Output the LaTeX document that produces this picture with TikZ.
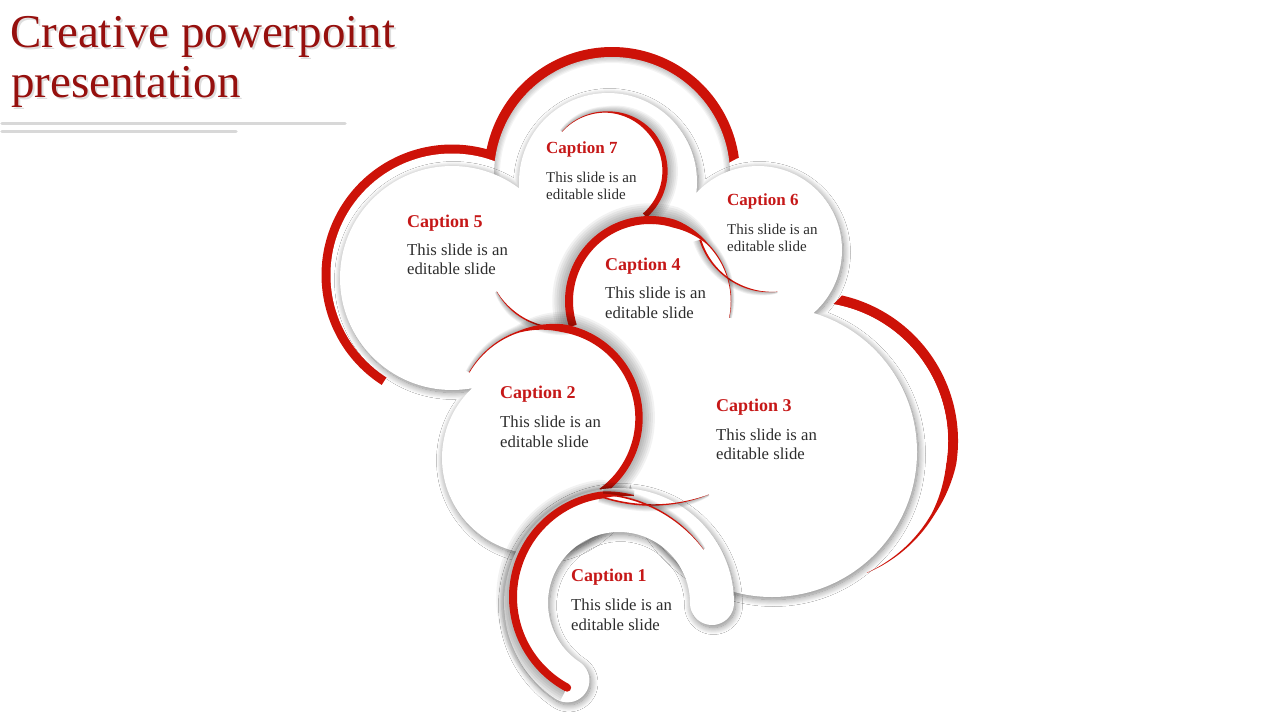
\documentclass[tikz,border=0pt]{standalone}
\usepackage{fontspec}
\setmainfont{Liberation Serif}
\usetikzlibrary{shadows.blur}
\definecolor{arcred}{RGB}{205,18,8}
\definecolor{capred}{RGB}{198,24,24}
\definecolor{titlered}{RGB}{150,16,14}
\definecolor{linegray}{RGB}{216,216,216}
\definecolor{bodygray}{RGB}{45,45,45}
\def\setprof#1/#2/#3/#4/#5/#6\relax{\def\wA{#1}\def\tB{#2}\def\wB{#3}\def\tC{#4}\def\wC{#5}\def\wD{#6}}
\newcommand\arcset[6]{\def\cx{#1}\def\cy{#2}\def\rr{#3}\def\aA{#4}\def\aB{#5}\setprof#6\relax}
\newcommand\arcfill{%
 \fill[arcred] plot[domain=0:1,samples=90,variable=\pp] ({\cx+(\rr+wp(\pp)/2)*cos(\aA+(\aB-\aA)*\pp)},{\cy+(\rr+wp(\pp)/2)*sin(\aA+(\aB-\aA)*\pp)}) -- plot[domain=0:1,samples=90,variable=\pp] ({\cx+(\rr-wp(1-\pp)/2)*cos(\aA+(\aB-\aA)*(1-\pp))},{\cy+(\rr-wp(1-\pp)/2)*sin(\aA+(\aB-\aA)*(1-\pp))}) -- cycle;}
\newcommand\arcshade{%
 \foreach \kk in {1,...,6}{%
 \fill[black,opacity=0.05] plot[domain=0:1,samples=70,variable=\pp] ({\cx+(\rr+wp(\pp)/2+\kk*0.75*sqrt(wp(\pp)))*cos(\aA+(\aB-\aA)*\pp)},{\cy+(\rr+wp(\pp)/2+\kk*0.75*sqrt(wp(\pp)))*sin(\aA+(\aB-\aA)*\pp)}) -- plot[domain=0:1,samples=70,variable=\pp] ({\cx+\rr*cos(\aA+(\aB-\aA)*(1-\pp))},{\cy+\rr*sin(\aA+(\aB-\aA)*(1-\pp))}) -- cycle;}}
\newcommand\redarc[6]{\arcset{#1}{#2}{#3}{#4}{#5}{#6}\arcshade\arcfill}
\newcommand\redarcplain[6]{\arcset{#1}{#2}{#3}{#4}{#5}{#6}\arcfill}
\newcommand\redsector[5]{\fill[arcred] (#1,#2) -- plot[domain=#4:#5,samples=90,variable=\pp] ({#1+#3*cos(\pp)},{#2+#3*sin(\pp)}) -- cycle;}
\begin{document}
\begin{tikzpicture}[x=1pt,y=-1pt,
  declare function={wp(\q)=(\q<\tB)?(\wA+(\wB-\wA)*\q/\tB):((\q<\tC)?(\wB+(\wC-\wB)*(\q-\tB)/(\tC-\tB)):(\wC+(\wD-\wC)*(\q-\tC)/(1-\tC)));},
  glow/.style={blur shadow={shadow xshift=1.5pt,shadow yshift=-2.5pt,shadow blur radius=7pt,shadow opacity=50,shadow blur steps=14}},
  captxt/.style={anchor=base west,inner sep=0pt,text=capred,font=\bfseries\fontsize{18}{18}\selectfont},
  captsm/.style={anchor=base west,inner sep=0pt,text=capred,font=\bfseries\fontsize{17}{17}\selectfont},
  bodytxt/.style={anchor=base west,inner sep=0pt,text=bodygray,font=\fontsize{16.7}{16.7}\selectfont},
  bodysm/.style={anchor=base west,inner sep=0pt,text=bodygray,font=\fontsize{15}{15}\selectfont},
  titletxt/.style={anchor=base west,inner sep=0pt,font=\fontsize{47}{47}\selectfont}]
\useasboundingbox (0,0) rectangle (1280,720);
\fill[white] (0,0) rectangle (1280,720);

% title
\node[titletxt,text=black,opacity=0.13] at (12,49) {Creative powerpoint};
\node[titletxt,text=black,opacity=0.13] at (13,99) {presentation};
\node[titletxt,text=titlered] (title1) at (10,47) {Creative powerpoint};
\node[titletxt,text=titlered] (title2) at (11,97) {presentation};
\coordinate (l1a) at (2,123.3); \coordinate (l1b) at (345,123.3);
\coordinate (l2a) at (2,131.7); \coordinate (l2b) at (236,131.7);
\draw[linegray,line width=3.5pt,line cap=round] (l1a) -- (l1b);
\draw[linegray,line width=3.5pt,line cap=round] (l2a) -- (l2b);

% outer red border
\redsector{452}{275}{130.5}{122.6}{300}
\redsector{612}{175}{128}{180}{360}
\redsector{775}{238}{96}{230}{55}
\redarcplain{809}{441}{144}{276}{426.3}{10.5/0.62/10/0.76/3/0.2}
\fill[white] (452,275) circle[radius=121.5];
\fill[white] (612,175) circle[radius=118];
\fill[white] (775,238) circle[radius=88];
\fill[white] (809,441) circle[radius=139];
\begin{scope}
\clip (612,175) circle[radius=118];
\foreach \kk in {1,...,5} \draw[black,opacity=0.045,line width=\kk*2.4pt] (612,175) circle[radius=118];
\end{scope}

% inner cloud
\fill[white,glow] (452,278) circle[radius=112] (608,182) circle[radius=89]
  (758,250) circle[radius=84] (772,452) circle[radius=145]
  (538,458) circle[radius=96] (650,301) circle[radius=81] (640,400) circle[radius=75]
  (560,330) circle[radius=55] (568,268) circle[radius=18];

% inner red arcs
\redarc{606}{171}{59}{221.7}{409}{0.3/0.26/1.3/0.52/5/5.5}
\redarc{560}{255}{73}{150}{84}{0.2/0.3/1.3/0.7/1.5/2}
\redarc{771}{218}{74}{163}{85}{2/0.3/1.6/0.7/1.2/0.1}
\redarc{650}{301}{81}{162}{372}{8/0.6/8/0.73/1.2/0.3}
\redarc{548}{418}{91}{210}{414}{0.6/0.2/1.5/0.34/8/7}

% caption 1 hook
\fill[white,glow] plot[domain=123.7:360,samples=90,variable=\pp] ({619+115*cos(\pp)},{603+115*sin(\pp)})
  -- plot[domain=0:180,samples=30,variable=\pp] ({712+22*cos(\pp)},{603+22*sin(\pp)})
  -- plot[domain=0:1,samples=90,variable=\pp] ({619+71*cos(360-236.3*\pp)},{603+71*sin(360-236.3*\pp)})
  -- plot[domain=303.7:483.7,samples=30,variable=\pp] ({619+93*cos(123.7)+22*cos(\pp)},{603+93*sin(123.7)+22*sin(\pp)}) -- cycle;
\redarc{652}{345}{160}{108.9}{69.2}{1.5/0.4/1.6/0.75/1/0.1}
\redarc{616}{597}{103}{118.3}{280}{8/0.5/8/0.89/7/1}
\fill[arcred] (616+103*cos 118.3,597+103*sin 118.3) circle[radius=4];
\redarc{594}{630}{136}{273.8}{323.7}{1.5/0.3/1.6/0.7/1.2/0.2}

% texts
\node[captsm] (c7) at (546,153) {Caption 7};
\node[bodysm] (c7a) at (546,182) {This slide is an};
\node[bodysm] (c7b) at (546,199.5) {editable slide};
\node[captsm] (c6) at (727,205) {Caption 6};
\node[bodysm] (c6a) at (727,234) {This slide is an};
\node[bodysm] (c6b) at (727,251) {editable slide};
\node[captxt] (c5) at (407,227) {Caption 5};
\node[bodytxt] (c5a) at (407,255) {This slide is an};
\node[bodytxt] (c5b) at (407,274.5) {editable slide};
\node[captxt] (c4) at (605,270) {Caption 4};
\node[bodytxt] (c4a) at (605,298.5) {This slide is an};
\node[bodytxt] (c4b) at (605,318) {editable slide};
\node[captxt] (c2) at (500,398.5) {Caption 2};
\node[bodytxt] (c2a) at (500,427.5) {This slide is an};
\node[bodytxt] (c2b) at (500,447) {editable slide};
\node[captxt] (c3) at (716,411) {Caption 3};
\node[bodytxt] (c3a) at (716,440) {This slide is an};
\node[bodytxt] (c3b) at (716,459.5) {editable slide};
\node[captxt] (c1) at (571,581) {Caption 1};
\node[bodytxt] (c1a) at (571,610.5) {This slide is an};
\node[bodytxt] (c1b) at (571,630) {editable slide};
\end{tikzpicture}
\end{document}
